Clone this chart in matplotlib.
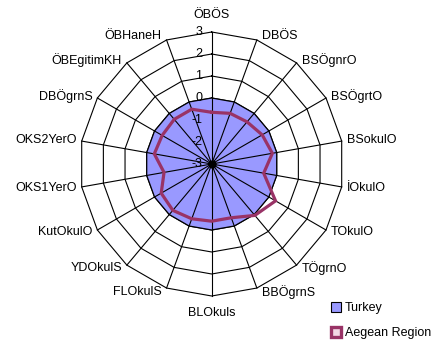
import numpy as np
import matplotlib
matplotlib.use("Agg")
import matplotlib.pyplot as plt
from matplotlib.lines import Line2D

plt.rcParams['font.family'] = ['Liberation Sans', 'DejaVu Sans']

categories = ['ÖBÖS', 'DBÖS', 'BSÖgnrO', 'BSÖgrtO', 'BSokulO', 'İOkulO',
              'TOkulO', 'TÖgrnO', 'BBÖgrnS', 'BLOkuls', 'FLOkulS', 'YDOkulS',
              'KutOkulO', 'OKS1YerO', 'OKS2YerO', 'DBÖgrnS', 'ÖBEgitimKH',
              'ÖBHaneH']
turkey = [0, 0, 0, 0, 0, 0, 0, 0, 0, 0, 0, 0, 0, 0, 0, 0, 0, 0]
aegean = [-0.65, -0.55, -0.5, -0.35, -0.2, -0.6, 0.35, 0.05, -0.4,
          -0.4, -0.35, -0.25, -0.35, -0.8, -0.35, -0.4, -0.35, -0.35]
ticks = [-3, -2, -1, 0, 1, 2, 3]

vmin, vmax = -3, 3
W, H = 434, 342
cx, cy = 211.7, 164.0      # centre of the web, in pixels from top-left
unit = 22.0                # pixels per value step

n = len(categories)
ang = np.arange(n) * 2 * np.pi / n
s, c = np.sin(ang), np.cos(ang)


def xy(vals):
    r = np.asarray(vals, dtype=float) - vmin
    x, y = r * s, r * c
    return np.append(x, x[0]), np.append(y, y[0])


fig = plt.figure(figsize=(W / 100, H / 100), dpi=100)
ax = fig.add_axes([0, 0, 1, 1])
ax.set_xlim(-cx / unit, (W - cx) / unit)
ax.set_ylim(-(H - cy) / unit, cy / unit)
ax.axis('off')

# web rings
for t in ticks[1:]:
    x, y = xy([t] * n)
    ax.plot(x, y, color='black', lw=0.8, zorder=1)

# Turkey area
x, y = xy(turkey)
ax.fill(x, y, facecolor='#9999FF', edgecolor='black', lw=0.9, zorder=2)

# spokes
R = vmax - vmin
for i in range(n):
    ax.plot([0, R * s[i]], [0, R * c[i]], color='black', lw=0.8, zorder=3)
ax.plot([0], [0], 'o', color='black', ms=5, zorder=3)

# Aegean line
x, y = xy(aegean)
ax.plot(x, y, color='#993366', lw=2.3, solid_joinstyle='miter', zorder=4)

# value labels along the top spoke
for t in ticks:
    ax.text(-9.5 / unit, t - vmin, str(t), ha='right', va='center',
            fontsize=9, zorder=5)

# category labels
for i, lab in enumerate(categories):
    vx, vy = R * s[i], R * c[i]
    if abs(s[i]) < 0.1:
        ax.text(vx, vy + np.sign(c[i]) * 16.5 / unit, lab, ha='center',
                va='center', fontsize=9)
    else:
        ha = 'left' if s[i] > 0 else 'right'
        ax.text(vx + np.sign(s[i]) * 5 / unit, vy + 4 * c[i] / unit, lab,
                ha=ha, va='center', fontsize=9)

handles = [
    Line2D([], [], marker='s', linestyle='none', markersize=6.5,
           markerfacecolor='#9999FF', markeredgecolor='black',
           markeredgewidth=0.8),
    Line2D([], [], marker='s', linestyle='none', markersize=6.5,
           markerfacecolor='#F3D6E4', markeredgecolor='#993366',
           markeredgewidth=2.4),
]
fig.legend(handles, ['Turkey', 'Aegean Region'], loc='upper left',
           bbox_to_anchor=(332 / W, 1 - 302 / H), frameon=False,
           fontsize=9, handlelength=0.7, handletextpad=0.35,
           labelspacing=1.05, borderpad=0, borderaxespad=0)

fig.savefig('out.png', dpi=100)
